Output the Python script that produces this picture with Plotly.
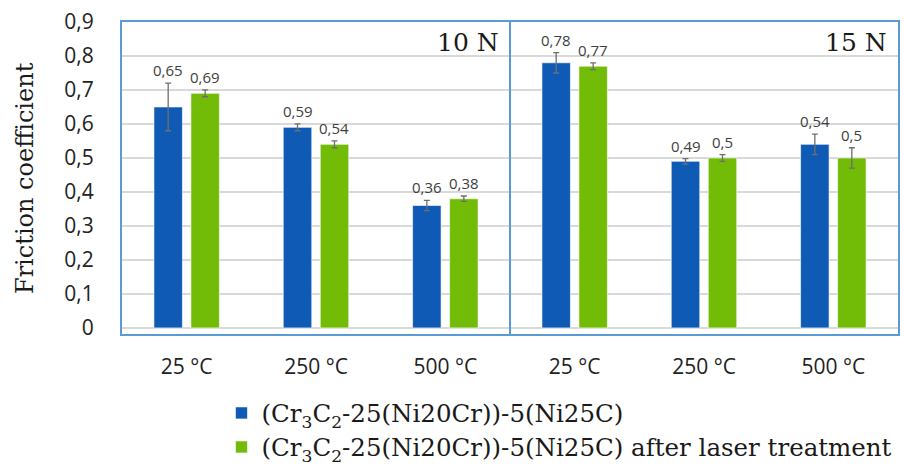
import plotly.graph_objects as go

categories = ["25 °C", "250 °C", "500 °C", "25 °C", "250 °C", "500 °C"]
series_names = ["(Cr<sub>3</sub>C<sub>2</sub>-25(Ni20Cr))-5(Ni25C)",
                "(Cr<sub>3</sub>C<sub>2</sub>-25(Ni20Cr))-5(Ni25C) after laser treatment"]
as_sprayed = [0.65, 0.59, 0.36, 0.78, 0.49, 0.54]
as_sprayed_err = [0.07, 0.01, 0.015, 0.03, 0.008, 0.03]
laser = [0.69, 0.54, 0.38, 0.77, 0.50, 0.50]
laser_err = [0.01, 0.01, 0.008, 0.01, 0.01, 0.03]
panel_labels = ["10 N", "15 N"]
y_ticks = [0, 0.1, 0.2, 0.3, 0.4, 0.5, 0.6, 0.7, 0.8, 0.9]

BLUE = "#0F5AB4"
GREEN = "#72BC08"
FRAME = "#5B9BD5"
TXT = "#404040"

xpos = list(range(len(categories)))

legend_font = dict(family="DejaVu Serif", size=24.5, color="#1a1a1a")

fig = go.Figure()
for name, vals, errs, col, lg in [(series_names[0], as_sprayed, as_sprayed_err, BLUE, "legend"),
                                  (series_names[1], laser, laser_err, GREEN, "legend2")]:
    fig.add_trace(go.Bar(
        x=xpos, y=vals, name=name, legend=lg,
        marker=dict(color=col, line=dict(color="rgba(255,255,255,0.6)", width=1)),
        error_y=dict(type="data", array=errs, visible=True, color="#6E6E6E",
                     thickness=1.3, width=3),
    ))

# data labels
slot = 0.572 / 2
for k, (vals, errs) in enumerate([(as_sprayed, as_sprayed_err), (laser, laser_err)]):
    off = (k - 0.5) * slot
    for i, (v, e) in enumerate(zip(vals, errs)):
        fig.add_annotation(x=i + off, y=v + e, xref="x", yref="y",
                           text=f"{v:g}".replace(".", ","), showarrow=False,
                           yanchor="middle", yshift=13,
                           font=dict(family="Open Sans", size=15, color=TXT))

# panel labels
for j, lab in enumerate(panel_labels):
    fig.add_annotation(x=2.5 + 3 * j - 0.07, y=0.9, xref="x", yref="y",
                       text=lab, showarrow=False, xanchor="right", yanchor="top",
                       yshift=-4,
                       font=dict(family="DejaVu Serif", size=25, color="#1a1a1a"))

# divider
fig.add_shape(type="line", x0=2.5, x1=2.5, y0=0, y1=1, xref="x", yref="paper",
              line=dict(color=FRAME, width=2))

# y title
fig.add_annotation(x=(25 - 122) / 776, y=0.5, xref="paper", yref="paper",
                   xanchor="center", yanchor="middle",
                   text="Friction coefficient", textangle=-90, showarrow=False,
                   font=dict(family="DejaVu Serif", size=24, color="#1a1a1a"))

fig.update_layout(
    width=904, height=465,
    margin=dict(l=122, r=6, t=22, b=131, autoexpand=False),
    paper_bgcolor="white", plot_bgcolor="white",
    separators=", ",
    barmode="group", bargap=0.428, bargroupgap=0.23,
    showlegend=True,
    legend=dict(x=0.245, y=1 - 413 / 465, xref="container", yref="container",
                xanchor="left", yanchor="middle",
                font=legend_font, bgcolor="rgba(0,0,0,0)"),
    legend2=dict(x=0.245, y=1 - 447 / 465, xref="container", yref="container",
                 xanchor="left", yanchor="middle",
                 font=legend_font, bgcolor="rgba(0,0,0,0)"),
    xaxis=dict(range=[-0.5, 5.5], tickvals=xpos, ticktext=categories,
               showline=True, mirror=True, linecolor=FRAME, linewidth=2,
               showgrid=False, zeroline=False, ticks="",
               ticklabelstandoff=13,
               tickfont=dict(family="Open Sans", size=21, color="#222")),
    yaxis=dict(range=[-0.018, 0.9], tickvals=y_ticks,
               showline=True, mirror=True, linecolor=FRAME, linewidth=2,
               showgrid=True, gridcolor="#D9D9D9", gridwidth=1.5,
               zeroline=False, ticks="", ticklabelstandoff=22,
               tickfont=dict(family="Open Sans", size=21, color="#222")),
)

fig.write_html("out.html")
